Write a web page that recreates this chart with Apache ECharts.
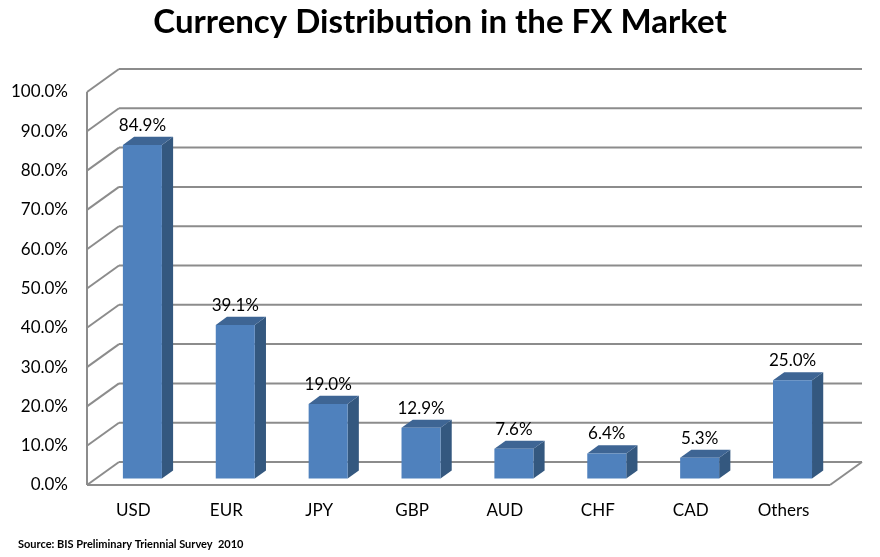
<!DOCTYPE html>
<html>
<head>
<meta charset="utf-8">
<script src="https://cdn.jsdelivr.net/npm/echarts@6/dist/echarts.min.js"></script>
<style>
  html, body { margin: 0; padding: 0; background: #fff; }
  #chart { width: 880px; height: 557px; }
</style>
</head>
<body>
<div id="chart"></div>
<script>
// data
const currencies = ['USD', 'EUR', 'JPY', 'GBP', 'AUD', 'CHF', 'CAD', 'Others'];
const shares = [84.9, 39.1, 19.0, 12.9, 7.6, 6.4, 5.3, 25.0];
const yTicks = [0, 10, 20, 30, 40, 50, 60, 70, 80, 90, 100];

// 3d look: offset of the back wall from the front plane
const DEPTH = [32, -23];
const BAR_FRONT = 0.28, BAR_BACK = 0.63;
const FONT = 'Lato, "Open Sans", sans-serif';

const chart = echarts.init(document.getElementById('chart'));

function wallItem(params, api) {
    const cs = params.coordSys;
    const v = api.value(0);
    const y = api.coord([0, v])[1];
    const x0 = cs.x, x1 = cs.x + cs.width;
    const line = { stroke: '#8c8c8c', lineWidth: 2 };
    const children = [
        // left wall diagonal
        { type: 'line', shape: { x1: x0, y1: y, x2: x0 + DEPTH[0], y2: y + DEPTH[1] }, style: line },
        // back wall line
        { type: 'line', shape: { x1: x0 + DEPTH[0], y1: y + DEPTH[1], x2: x1 + DEPTH[0], y2: y + DEPTH[1] }, style: line }
    ];
    if (v === 0) {
        // floor front edge + right edge
        children.push({ type: 'line', shape: { x1: x0, y1: y, x2: x1, y2: y }, style: line });
        children.push({ type: 'line', shape: { x1: x1, y1: y, x2: x1 + DEPTH[0], y2: y + DEPTH[1] }, style: line });
        // left vertical edge
        const top = api.coord([0, 100])[1];
        children.push({ type: 'line', shape: { x1: x0, y1: y, x2: x0, y2: top }, style: line });
    }
    return { type: 'group', children: children };
}

function barItem(params, api) {
    const idx = api.value(0);
    const val = api.value(1);
    const top = api.coord([idx, val]);
    const base = api.coord([idx, 0]);
    const band = api.size([1, 0])[0];
    const w = band * 0.42;
    const fx = DEPTH[0] * BAR_FRONT, fy = DEPTH[1] * BAR_FRONT;
    const d = [DEPTH[0] * (BAR_BACK - BAR_FRONT), DEPTH[1] * (BAR_BACK - BAR_FRONT)];
    const cx = top[0] + fx;
    const l = cx - w / 2, r = cx + w / 2;
    const yt = top[1] + fy, yb = base[1] + fy;
    return {
        type: 'group',
        children: [
            { type: 'polygon', shape: { points: [[r, yt], [r + d[0], yt + d[1]], [r + d[0], yb + d[1]], [r, yb]] },
              style: { fill: '#34587f' } },
            { type: 'polygon', shape: { points: [[l, yt], [l + d[0], yt + d[1]], [r + d[0], yt + d[1]], [r, yt]] },
              style: { fill: '#3e6594' } },
            { type: 'rect', shape: { x: l, y: yt, width: w, height: yb - yt },
              style: { fill: '#4f81bd' } },
            { type: 'text', x: cx, y: yt + d[1] - 3,
              style: { text: val.toFixed(1) + '%', fill: '#000', font: '17px ' + FONT,
                       align: 'center', verticalAlign: 'bottom' } }
        ]
    };
}

chart.setOption({
    animation: false,
    title: {
        text: 'Currency Distribution in the FX Market',
        left: 'center',
        top: 1,
        textStyle: { fontFamily: FONT, fontWeight: 'bold', fontSize: 33, color: '#000' }
    },
    graphic: [{
        type: 'text', left: 18, top: 539,
        style: { text: 'Source: BIS Preliminary Triennial Survey  2010', font: 'bold 11px ' + FONT, fill: '#000' }
    }],
    grid: { left: 87, top: 92, width: 743, height: 393 },
    xAxis: {
        type: 'category',
        data: currencies,
        axisLine: { show: false },
        axisTick: { show: false },
        axisLabel: { margin: 17, fontSize: 17, fontFamily: FONT, color: '#000' }
    },
    yAxis: {
        type: 'value',
        min: 0, max: 100, interval: 10,
        axisLine: { show: false },
        axisTick: { show: false },
        splitLine: { show: false },
        axisLabel: { margin: 19, fontSize: 17, fontFamily: FONT, color: '#000',
                     formatter: v => v.toFixed(1) + '%' }
    },
    series: [{
        type: 'custom',
        renderItem: wallItem,
        data: yTicks.map(v => [v]),
        encode: { y: 0 },
        silent: true,
        z: 1
    }, {
        type: 'custom',
        renderItem: barItem,
        data: shares.map((v, i) => [i, v]),
        encode: { x: 0, y: 1 },
        z: 2
    }]
});
</script>
</body>
</html>
